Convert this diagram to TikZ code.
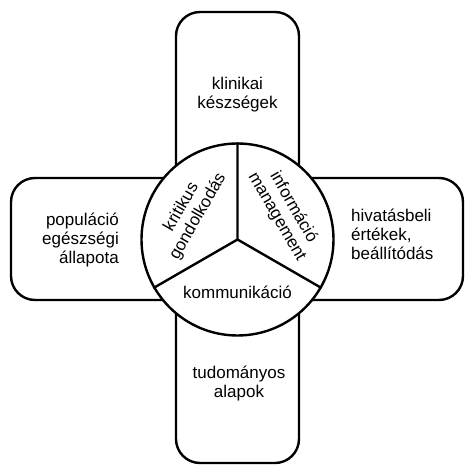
\documentclass[tikz,border=0pt]{standalone}
\usepackage{fontspec}
\setmainfont{Liberation Sans}
\usetikzlibrary{positioning}

\begin{document}
\begin{tikzpicture}[x=1pt,y=1pt,line width=2.4pt,arm/.style={draw,rectangle,rounded corners=24pt,inner sep=0pt},lbl/.style={font=\fontsize{17}{19}\selectfont,align=center,inner sep=0pt}]

	\useasboundingbox (-237.5,-225.5) rectangle (226.5,239.5);

	% the two arms of the cross
	\node [arm, minimum width=123pt, minimum height=451pt] at (0,2)		(vert)	{};
	\node [arm, minimum width=452pt, minimum height=122pt] at (-0.5,0.5)	(horiz)	{};

	% the wheel in the middle
	\node [circle, draw, fill=white, minimum size=192pt, inner sep=0pt] at (0,0)	(hub)	{};
	\draw (hub.center) -- (hub.90)
		  (hub.center) -- (hub.210)
		  (hub.center) -- (hub.330);

	\node [lbl] at (0,145)							(skills)		{klinikai\\készségek};
	\node [lbl] at (1.5,-144)						(science)		{tudományos\\alapok};
	\node [lbl, align=right, anchor=east] at (-117.5,-0.5)	(population)	{populáció\\egészségi\\állapota};
	\node [lbl, align=left, anchor=west] at (112.5,5.5)	(values)		{hivatásbeli\\értékek,\\beállítódás};

	\node [lbl, rotate=60] at (150:55)				(thinking)		{kritikus\\gondolkodás};
	\node [lbl, rotate=-60] at (30:55)				(info)			{információ\\management};
	\node [lbl] at (270:52.5)						(comm)			{kommunikáció};

\end{tikzpicture}
\end{document}
